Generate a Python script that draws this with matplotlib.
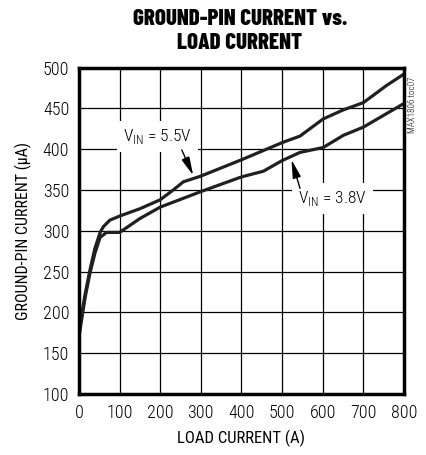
import numpy as np
import matplotlib.pyplot as plt
from matplotlib import font_manager

# data
load_55 = [0, 15, 27, 39, 52, 60, 76, 100, 150, 200, 232, 257, 300, 400, 500, 544, 601, 650, 700, 757, 800]
gnd_55 = [178, 222, 252, 278, 298, 305, 313, 318, 327, 338, 350, 360, 367, 387, 408, 416, 437, 448, 457, 478, 492]

load_38 = [0, 15, 27, 39, 52, 68, 100, 150, 200, 300, 400, 454, 500, 544, 601, 651, 700, 800]
gnd_38 = [170, 218, 248, 272, 292, 298, 298, 315, 329, 348, 366, 373, 386, 396, 402, 417, 427, 456]

xticks = [0, 100, 200, 300, 400, 500, 600, 700, 800]
yticks = [100, 150, 200, 250, 300, 350, 400, 450, 500]


def pick(cands):
    names = {f.name for f in font_manager.fontManager.ttflist}
    for c in cands:
        if c in names:
            return c
    return 'DejaVu Sans'


body = pick(['Roboto Condensed', 'Archivo Narrow', 'Barlow Condensed'])
head = pick(['Barlow Condensed', 'Roboto Condensed', 'Archivo Narrow'])
plt.rcParams['font.family'] = [body, 'DejaVu Sans']
plt.rcParams['font.weight'] = 300
plt.rcParams['mathtext.fontset'] = 'custom'
plt.rcParams['mathtext.rm'] = body + ':light'

ink = '#231f20'
fig = plt.figure(figsize=(4.26, 4.55), dpi=100)
ax = fig.add_axes([0.1854, 0.134, 0.763, 0.7176])

ax.plot(load_55, gnd_55, color=ink, lw=2.3, solid_joinstyle='round', zorder=3)
ax.plot(load_38, gnd_38, color=ink, lw=2.3, solid_joinstyle='round', zorder=3)

ax.set_xlim(0, 800)
ax.set_ylim(100, 500)
ax.set_xticks(xticks)
ax.set_yticks(yticks)
ax.tick_params(length=0, labelsize=13, pad=7, colors='black')
ax.grid(True, color='black', lw=0.9)
ax.set_axisbelow(True)
for s in ax.spines.values():
    s.set_linewidth(2.5)
    s.set_zorder(4)

ax.set_xlabel('LOAD CURRENT (A)', fontsize=12, labelpad=6)
ax.set_ylabel('GROUND-PIN CURRENT (µA)', fontsize=11.5, labelpad=8)
fig.text(0.563, 0.932, 'GROUND-PIN CURRENT vs.\nLOAD CURRENT', ha='center', va='center',
         fontsize=16.5, fontweight=800, family=[head, 'DejaVu Sans'], linespacing=1.22)

box = dict(boxstyle='square,pad=0.35', fc='white', ec='none')
arrow = dict(arrowstyle='-|>,head_length=1.1,head_width=0.25', color='black', lw=1,
             shrinkA=0, shrinkB=0)
ax.text(194, 416, r'V$_{\mathregular{IN}}$ = 5.5V', ha='center', va='center',
        fontsize=12.5, bbox=box, zorder=5)
ax.annotate('', xy=(281, 368), xytext=(253, 399), arrowprops=arrow, zorder=5)
ax.text(623, 340, r'V$_{\mathregular{IN}}$ = 3.8V', ha='center', va='center',
        fontsize=12.5, bbox=box, zorder=5)
ax.annotate('', xy=(523, 387), xytext=(544, 352), arrowprops=arrow, zorder=5)

fig.text(0.969, 0.77, 'MAX1806 toc07', rotation=90, ha='center', va='center', fontsize=6.5)

fig.savefig('out.png', dpi=100)
